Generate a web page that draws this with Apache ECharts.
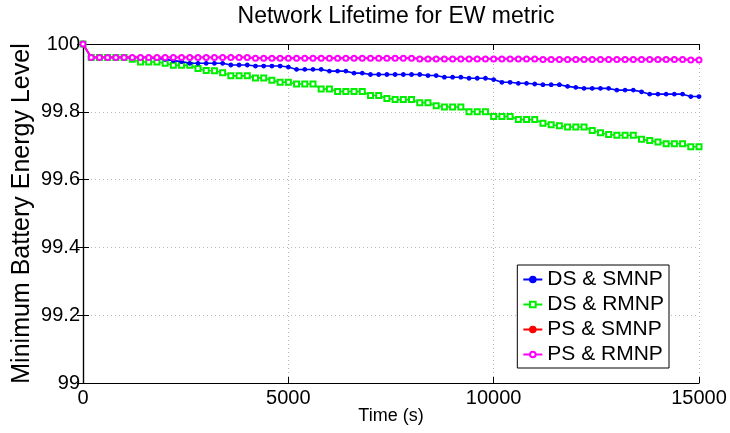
<!DOCTYPE html>
<html>
<head>
<meta charset="utf-8">
<script src="https://cdn.jsdelivr.net/npm/echarts@6/dist/echarts.min.js"></script>
<style>
  html, body { margin: 0; padding: 0; background: #fff; }
  #chart { width: 730px; height: 433px; }
</style>
</head>
<body>
<div id="chart"></div>
<script>
// sample times (s)
const times = [
  0, 200, 400, 600, 800, 1000, 1200, 1400, 1600, 1800,
  2000, 2200, 2400, 2600, 2800, 3000, 3200, 3400, 3600, 3800,
  4000, 4200, 4400, 4600, 4800, 5000, 5200, 5400, 5600, 5800,
  6000, 6200, 6400, 6600, 6800, 7000, 7200, 7400, 7600, 7800,
  8000, 8200, 8400, 8600, 8800, 9000, 9200, 9400, 9600, 9800,
  10000, 10200, 10400, 10600, 10800, 11000, 11200, 11400, 11600, 11800,
  12000, 12200, 12400, 12600, 12800, 13000, 13200, 13400, 13600, 13800,
  14000, 14200, 14400, 14600, 14800, 15000
];

const dsSmnp = [
  100, 99.960, 99.960, 99.960, 99.960, 99.960, 99.960, 99.960, 99.960, 99.957,
  99.955, 99.951, 99.948, 99.943, 99.943, 99.943, 99.943, 99.943, 99.938, 99.938,
  99.938, 99.935, 99.935, 99.935, 99.935, 99.932, 99.925, 99.925, 99.925, 99.925,
  99.920, 99.920, 99.920, 99.914, 99.914, 99.910, 99.910, 99.910, 99.910, 99.910,
  99.910, 99.910, 99.907, 99.907, 99.902, 99.902, 99.902, 99.899, 99.899, 99.899,
  99.895, 99.887, 99.887, 99.884, 99.884, 99.882, 99.880, 99.880, 99.880, 99.875,
  99.872, 99.869, 99.869, 99.869, 99.869, 99.864, 99.864, 99.864, 99.859, 99.852,
  99.852, 99.852, 99.852, 99.852, 99.845, 99.845
];

const dsRmnp = [
  100, 99.960, 99.960, 99.960, 99.960, 99.960, 99.955, 99.947, 99.947, 99.947,
  99.943, 99.937, 99.937, 99.937, 99.928, 99.922, 99.921, 99.915, 99.906, 99.906,
  99.906, 99.900, 99.900, 99.893, 99.887, 99.887, 99.882, 99.882, 99.882, 99.867,
  99.867, 99.860, 99.860, 99.860, 99.860, 99.848, 99.848, 99.839, 99.836, 99.836,
  99.836, 99.827, 99.827, 99.818, 99.814, 99.814, 99.814, 99.800, 99.800, 99.800,
  99.786, 99.786, 99.786, 99.777, 99.777, 99.777, 99.766, 99.762, 99.759, 99.755,
  99.755, 99.755, 99.745, 99.738, 99.733, 99.731, 99.731, 99.731, 99.719, 99.715,
  99.711, 99.706, 99.706, 99.706, 99.697, 99.697
];

const psSmnp = [
  100, 99.961, 99.961, 99.961, 99.961, 99.961, 99.961, 99.961, 99.961, 99.961,
  99.961, 99.961, 99.961, 99.961, 99.961, 99.961, 99.961, 99.961, 99.961, 99.961,
  99.961, 99.959, 99.959, 99.959, 99.959, 99.959, 99.959, 99.959, 99.959, 99.959,
  99.959, 99.959, 99.959, 99.959, 99.959, 99.959, 99.959, 99.959, 99.959, 99.959,
  99.959, 99.957, 99.957, 99.957, 99.957, 99.957, 99.957, 99.957, 99.957, 99.957,
  99.957, 99.957, 99.957, 99.957, 99.957, 99.957, 99.955, 99.955, 99.955, 99.955,
  99.955, 99.955, 99.955, 99.955, 99.955, 99.955, 99.955, 99.955, 99.955, 99.955,
  99.955, 99.955, 99.955, 99.955, 99.954, 99.954
];

const psRmnp = [
  100, 99.960, 99.960, 99.960, 99.960, 99.960, 99.960, 99.960, 99.960, 99.960,
  99.960, 99.960, 99.960, 99.960, 99.960, 99.960, 99.960, 99.960, 99.960, 99.960,
  99.960, 99.958, 99.958, 99.958, 99.958, 99.958, 99.958, 99.958, 99.958, 99.958,
  99.958, 99.958, 99.958, 99.958, 99.958, 99.958, 99.958, 99.958, 99.958, 99.958,
  99.958, 99.956, 99.956, 99.956, 99.956, 99.956, 99.956, 99.956, 99.956, 99.956,
  99.956, 99.956, 99.956, 99.956, 99.956, 99.956, 99.954, 99.954, 99.954, 99.954,
  99.954, 99.954, 99.954, 99.954, 99.954, 99.954, 99.954, 99.954, 99.954, 99.954,
  99.954, 99.954, 99.954, 99.954, 99.953, 99.953
];

const legendNames = ["DS & SMNP", "DS & RMNP", "PS & SMNP", "PS & RMNP"];

const font = "Liberation Sans, Arial, Helvetica, sans-serif";

function pairs(vals) {
  return times.map((t, i) => [t, vals[i]]);
}

function makeSeries(name, vals, color, symbol, size, width, z) {
  return {
    name: name,
    type: "line",
    data: pairs(vals),
    symbol: symbol,
    symbolSize: size,
    showAllSymbol: true,
    z: z,
    lineStyle: { color: color, width: width },
    itemStyle: { color: color, borderColor: color, borderWidth: 1.3 },
    emphasis: { disabled: true },
    animation: false
  };
}

const chart = echarts.init(document.getElementById("chart"));

const tickStyle = { show: true, inside: true, length: 6, lineStyle: { color: "#000", width: 1 } };
const gridLine = { show: true, lineStyle: { color: "#b8b8b8", type: [1, 3], width: 1 } };

const option = {
  backgroundColor: "#fff",
  animation: false,
  title: {
    text: "Network Lifetime for EW metric",
    left: 391,
    textAlign: "center",
    top: 0,
    textStyle: { fontFamily: font, fontSize: 23, fontWeight: "normal", color: "#000" }
  },
  grid: { left: 83, right: 31, top: 44, bottom: 50, containLabel: false, outerBoundsMode: "none" },
  legend: {
    data: legendNames,
    orient: "vertical",
    right: 61,
    bottom: 65,
    backgroundColor: "#fff",
    borderColor: "#000",
    borderWidth: 1,
    padding: [4, 5, 3, 5],
    itemWidth: 19,
    itemHeight: 7,
    itemGap: 4,
    textStyle: { fontFamily: font, fontSize: 21, color: "#000" }
  },
  xAxis: [
    {
      type: "value",
      min: 0,
      max: 15000,
      interval: 5000,
      name: "Time (s)",
      nameLocation: "middle",
      nameGap: 24,
      nameMoveOverlap: false,
      nameTextStyle: { fontFamily: font, fontSize: 18, color: "#000" },
      axisLine: { show: true, onZero: false, lineStyle: { color: "#000", width: 1.2 } },
      axisTick: tickStyle,
      axisLabel: { fontFamily: font, fontSize: 20, color: "#000", margin: 5, formatter: v => String(v) },
      splitLine: gridLine
    },
    {
      type: "value",
      position: "top",
      min: 0,
      max: 15000,
      interval: 5000,
      axisLine: { show: true, lineStyle: { color: "#000", width: 1.2 } },
      axisTick: tickStyle,
      axisLabel: { show: false },
      splitLine: { show: false }
    }
  ],
  yAxis: [
    {
      type: "value",
      min: 99,
      max: 100,
      interval: 0.2,
      name: "Minimum Battery Energy Level",
      nameLocation: "middle",
      nameGap: 48,
      nameMoveOverlap: false,
      nameTextStyle: { fontFamily: font, fontSize: 25, color: "#000" },
      axisLine: { show: true, onZero: false, lineStyle: { color: "#000", width: 1.2 } },
      axisTick: tickStyle,
      axisLabel: {
        fontFamily: font, fontSize: 20, color: "#000", margin: 3,
        formatter: v => String(Math.round(v * 10) / 10)
      },
      splitLine: gridLine
    },
    {
      type: "value",
      position: "right",
      min: 99,
      max: 100,
      interval: 0.2,
      axisLine: { show: true, lineStyle: { color: "#000", width: 1.2 } },
      axisTick: tickStyle,
      axisLabel: { show: false },
      splitLine: { show: false }
    }
  ],
  series: [
    makeSeries(legendNames[0], dsSmnp, "#0000ff", "circle", 3.5, 1.6, 3),
    makeSeries(legendNames[1], dsRmnp, "#00ee00", "emptyRect", 5, 1.6, 2),
    makeSeries(legendNames[2], psSmnp, "#ff0000", "circle", 3.5, 1.6, 4),
    makeSeries(legendNames[3], psRmnp, "#ff00ff", "emptyCircle", 5, 1.8, 5)
  ]
};

chart.setOption(option);
</script>
</body>
</html>
